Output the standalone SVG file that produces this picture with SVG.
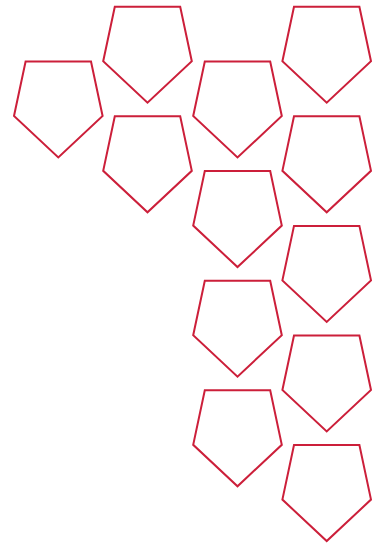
<svg xmlns="http://www.w3.org/2000/svg" xmlns:xlink="http://www.w3.org/1999/xlink" width="379" height="549" viewBox="0 0 379 549">
<style>
.shield{fill:#ffffff;stroke:#cc1f3a;stroke-width:2;stroke-linejoin:miter}
</style>
<defs>
<path id="sh" class="shield" d="M -32.7,-96 L 32.7,-96 L 44.3,-41.5 L 0,0 L -44.3,-41.5 Z"/>
</defs>
<rect width="379" height="549" fill="#ffffff"/>
<g id="n1"><use href="#sh" xlink:href="#sh" x="58.3" y="157.5"/></g>
<g id="n2"><use href="#sh" xlink:href="#sh" x="147.5" y="102.7"/></g>
<g id="n3"><use href="#sh" xlink:href="#sh" x="147.5" y="212.3"/></g>
<g id="n4"><use href="#sh" xlink:href="#sh" x="237.5" y="157.5"/></g>
<g id="n5"><use href="#sh" xlink:href="#sh" x="237.5" y="267.1"/></g>
<g id="n6"><use href="#sh" xlink:href="#sh" x="237.5" y="376.7"/></g>
<g id="n7"><use href="#sh" xlink:href="#sh" x="237.5" y="486.3"/></g>
<g id="n8"><use href="#sh" xlink:href="#sh" x="326.7" y="102.7"/></g>
<g id="n9"><use href="#sh" xlink:href="#sh" x="326.7" y="212.3"/></g>
<g id="n10"><use href="#sh" xlink:href="#sh" x="326.7" y="321.9"/></g>
<g id="n11"><use href="#sh" xlink:href="#sh" x="326.7" y="431.5"/></g>
<g id="n12"><use href="#sh" xlink:href="#sh" x="326.7" y="541.1"/></g>
<g id="connectors"></g>
</svg>
